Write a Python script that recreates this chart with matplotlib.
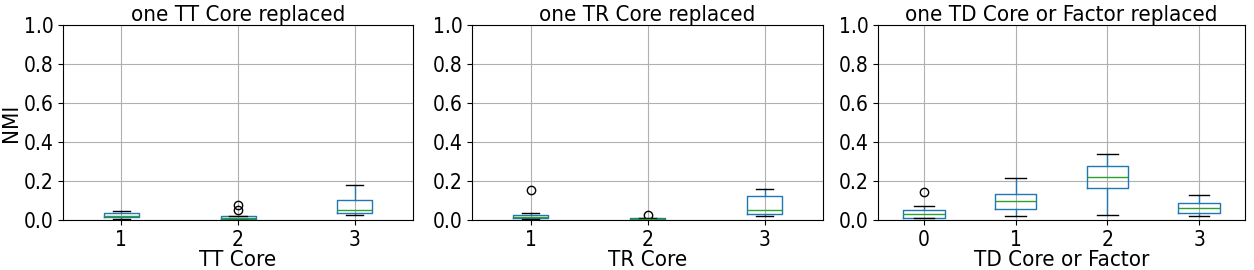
import numpy as np
import matplotlib
matplotlib.use("Agg")
from matplotlib import pyplot as plt

# box stats: (whislo, q1, med, q3, whishi, fliers)
tt_labels = ["1", "2", "3"]
tt_stats = [
    (0.005, 0.015, 0.019, 0.036, 0.046, []),
    (0.001, 0.003, 0.010, 0.020, 0.020, [0.053, 0.079]),
    (0.026, 0.036, 0.051, 0.103, 0.180, []),
]

tr_labels = ["1", "2", "3"]
tr_stats = [
    (0.003, 0.009, 0.014, 0.024, 0.034, [0.153]),
    (0.000, 0.002, 0.005, 0.009, 0.012, [0.026]),
    (0.019, 0.029, 0.052, 0.122, 0.159, []),
]

td_labels = ["0", "1", "2", "3"]
td_stats = [
    (0.009, 0.012, 0.033, 0.050, 0.071, [0.143]),
    (0.019, 0.055, 0.097, 0.133, 0.216, []),
    (0.024, 0.164, 0.219, 0.278, 0.340, []),
    (0.019, 0.034, 0.060, 0.086, 0.128, []),
]

titles = ["one TT Core replaced", "one TR Core replaced", "one TD Core or Factor replaced"]
xlabels = ["TT Core", "TR Core", "TD Core or Factor"]

plt.rcParams["font.stretch"] = "condensed"

W, H = 1254, 270
fig = plt.figure(figsize=(W / 100, H / 100), dpi=100)
spans = [(63, 413), (472, 823), (878, 1245)]
top, bottom = 25, 220

for i, (stats, labels) in enumerate([(tt_stats, tt_labels), (tr_stats, tr_labels), (td_stats, td_labels)]):
    x0, x1 = spans[i]
    ax = fig.add_axes([x0 / W, 1 - bottom / H, (x1 - x0) / W, (bottom - top) / H])
    bxp = []
    for s, lab in zip(stats, labels):
        bxp.append(dict(whislo=s[0], q1=s[1], med=s[2], q3=s[3], whishi=s[4], fliers=s[5], label=lab))
    ax.bxp(bxp, showfliers=True,
           boxprops=dict(color="#1f77b4"),
           whiskerprops=dict(color="#1f77b4"),
           capprops=dict(color="k"),
           medianprops=dict(color="#2ca02c"),
           flierprops=dict(marker="o", markerfacecolor="none", markeredgecolor="k"))
    ax.set_ylim(0, 1)
    ax.set_yticks(np.arange(0, 1.01, 0.2))
    ax.tick_params(labelsize=15)
    ax.grid(True, color="#b0b0b0", linewidth=0.8)
    ax.set_axisbelow(True)
    ax.set_title(titles[i], fontsize=16, pad=3)
    ax.set_xlabel(xlabels[i], fontsize=16, labelpad=0)
    if i == 0:
        ax.set_ylabel("NMI", fontsize=16, labelpad=2)

fig.savefig("out.png", dpi=100)
